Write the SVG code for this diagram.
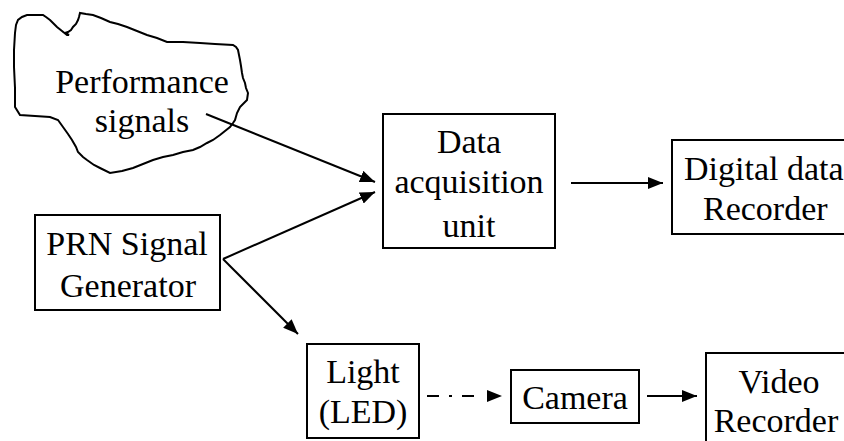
<svg xmlns="http://www.w3.org/2000/svg" width="844" height="441" viewBox="0 0 844 441">
<style>
  .box { fill: #fff; stroke: #000; stroke-width: 2; }
  text { font-family: 'Liberation Serif', 'Times New Roman', 'DejaVu Serif', serif; font-size: 34px; fill: #000; }
  .mid { text-anchor: middle; }
  .conn { stroke: #000; stroke-width: 2; fill: none; }
</style>
<defs>
  <marker id="ah" viewBox="0 0 15 12" refX="15" refY="6" markerWidth="15" markerHeight="12" markerUnits="userSpaceOnUse" orient="auto">
    <path d="M0,0 L15,6 L0,12 z" fill="#000"/>
  </marker>
</defs>
<rect width="844" height="441" fill="#fff"/>

<g id="performance">
  <path class="box" d="M16,25 L15,33 L14,50 L14,67 L15,88 L15,107 L20,115 L35,116 L50,117 L58,120 L63,127 L68,134 L72,140 L76,147 L78,152 L83,157 L87,160 L94,165 L100,168 L110,173 L122,171 L133,168 L143,164 L153,160 L163,157 L173,155 L183,152 L193,150 L200,147 L207,143 L213,140 L220,135 L225,131 L230,127 L233,123 L235,120 L237,113 L240,107 L244,103 L247,100 L248,93 L246,88 L245,83 L243,78 L242,73 L241,66 L240,60 L239,55 L238,50 L236,47 L233,45 L215,44 L200,43 L183,42 L167,42 L157,38 L147,35 L137,31 L127,27 L118,24 L110,22 L101,18 L93,15 L86,14 L80,13 L79,17 L78,20 L76,24 L73,27 L71,30 L68,32 L65,33 L69,35 L67,35 L62,31 L57,27 L53,23 L50,20 L46,17 L43,15 L35,15 L27,15 L22,17 L18,20 Z"/>
  <text class="mid" x="142" y="93">Performance</text>
  <text class="mid" x="142" y="132">signals</text>
</g>

<g id="daq">
  <rect class="box" x="383" y="114" width="172" height="134"/>
  <text class="mid" x="469" y="153">Data</text>
  <text class="mid" x="469" y="193">acquisition</text>
  <text class="mid" x="469" y="237">unit</text>
</g>

<g id="digital">
  <rect class="box" x="672" y="140" width="190" height="94"/>
  <text x="684" y="180" font-size="33">Digital data</text>
  <text x="703" y="220">Recorder</text>
</g>

<g id="prn">
  <rect class="box" x="35" y="215" width="185" height="95"/>
  <text class="mid" x="127" y="255">PRN Signal</text>
  <text class="mid" x="128" y="297">Generator</text>
</g>

<g id="light">
  <rect class="box" x="307" y="344" width="112" height="94"/>
  <text class="mid" x="363" y="383">Light</text>
  <text class="mid" x="363" y="423">(LED)</text>
</g>

<g id="camera">
  <rect class="box" x="511" y="370" width="128" height="53"/>
  <text class="mid" x="575" y="409">Camera</text>
</g>

<g id="video">
  <rect class="box" x="706" y="353" width="160" height="110"/>
  <text class="mid" x="779" y="393">Video</text>
  <text class="mid" x="776" y="432">Recorder</text>
</g>

<g id="connectors">
  <line class="conn" x1="206" y1="114" x2="375" y2="182" marker-end="url(#ah)"/>
  <line class="conn" x1="223" y1="259" x2="298" y2="334" marker-end="url(#ah)"/>
  <line class="conn" x1="223" y1="259" x2="375" y2="192" marker-end="url(#ah)"/>
  <line class="conn" x1="571" y1="183" x2="663" y2="183" marker-end="url(#ah)"/>
  <line class="conn" x1="427" y1="396" x2="502" y2="396" stroke-dasharray="12 10 3 10 12 40" marker-end="url(#ah)"/>
  <line class="conn" x1="647" y1="396" x2="697" y2="396" marker-end="url(#ah)"/>
</g>
</svg>
